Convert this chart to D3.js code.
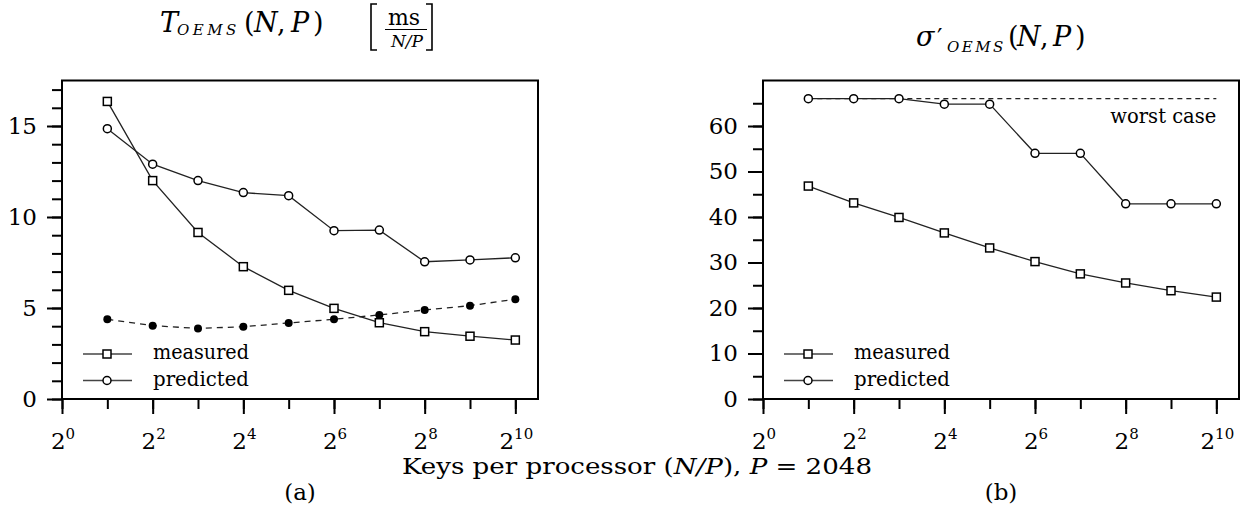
<!DOCTYPE html>
<html>
<head>
<meta charset="utf-8">
<script src="https://cdn.jsdelivr.net/npm/d3@7"></script>
<style>
  body { margin: 0; background: #fff; }
  svg text { font-family: "DejaVu Serif", serif; fill: #000; }
  .it { font-style: italic; }
</style>
</head>
<body>
<script>
// keys per processor (N/P), x positions of the points
var keysPerProc = [2, 4, 8, 16, 32, 64, 128, 256, 512, 1024];
var xTickValues = [1, 2, 4, 8, 16, 32, 64, 128, 256, 512, 1024];
var xMajorTicks = [1, 4, 16, 64, 256, 1024];
var xTickExponents = [0, 2, 4, 6, 8, 10];

// (a) T_OEMS(N,P) in ms per N/P
var timeMeasured = [16.35, 12.0, 9.15, 7.27, 5.97, 4.98, 4.19, 3.70, 3.45, 3.24];
var timePredicted = [14.85, 12.9, 12.0, 11.34, 11.17, 9.25, 9.28, 7.54, 7.64, 7.76];
var timeDashed = [4.38, 4.03, 3.88, 3.97, 4.18, 4.38, 4.62, 4.89, 5.13, 5.48];
var timeMajorTicks = [0, 5, 10, 15];
var timeMinorTicks = [0, 1, 2, 3, 4, 5, 6, 7, 8, 9, 10, 11, 12, 13, 14, 15, 16, 17];

// (b) sigma'_OEMS(N,P)
var sigmaMeasured = [46.8, 43.1, 39.9, 36.5, 33.2, 30.2, 27.5, 25.5, 23.8, 22.4];
var sigmaPredicted = [66, 66, 66, 64.8, 64.8, 54.0, 54.0, 42.9, 42.9, 42.9];
var sigmaWorst = 66;
var sigmaMajorTicks = [0, 10, 20, 30, 40, 50, 60];
var sigmaMinorTicks = [0, 5, 10, 15, 20, 25, 30, 35, 40, 45, 50, 55, 60, 65];

var legendLabels = ["measured", "predicted"];

var W = 1247, H = 508;
var top0 = 80.5, bottom0 = 399;

var svg = d3.select("body").append("svg")
  .attr("width", W)
  .attr("height", H)
  .attr("font-family", "DejaVu Serif");

function drawPanel(p) {
  var x = d3.scaleLog().base(2)
    .domain([1, Math.pow(2, 10.5)])
    .range([p.left, p.right]);
  var y = d3.scaleLinear()
    .domain([0, p.yMax])
    .range([bottom0, top0]);

  var g = svg.append("g");

  // y ticks (minor then major with labels)
  g.append("g")
    .attr("transform", "translate(" + p.left + ",0)")
    .call(d3.axisLeft(y).tickValues(p.minorTicks).tickSize(10).tickFormat(""))
    .call(function(a) { a.select(".domain").remove(); });
  g.append("g")
    .attr("transform", "translate(" + p.left + ",0)")
    .call(d3.axisLeft(y).tickValues(p.majorTicks).tickSize(15).tickPadding(10).tickFormat(d3.format("d")))
    .call(function(a) { a.select(".domain").remove(); a.attr("font-family", null); })
    .selectAll("text").style("font-size", "23px");

  // x ticks
  g.append("g")
    .attr("transform", "translate(0," + bottom0 + ")")
    .call(d3.axisBottom(x).tickValues(xTickValues).tickSize(10).tickFormat(""))
    .call(function(a) { a.select(".domain").remove(); });
  g.append("g")
    .attr("transform", "translate(0," + bottom0 + ")")
    .call(d3.axisBottom(x).tickValues(xMajorTicks).tickSize(15).tickFormat(""))
    .call(function(a) { a.select(".domain").remove(); });

  g.selectAll(".tick line").attr("stroke-width", 2);

  // 2^k labels
  g.selectAll(null)
    .data(xTickExponents)
    .enter().append("text")
    .attr("x", function(d) { return x(Math.pow(2, d)) + 1; })
    .attr("y", 449)
    .attr("text-anchor", "middle")
    .style("font-size", "23px")
    .each(function(d) {
      var t = d3.select(this);
      t.append("tspan").text("2");
      t.append("tspan").attr("dy", -10).style("font-size", "15px").text(d);
    });

  // frame
  g.append("rect")
    .attr("x", p.left).attr("y", top0)
    .attr("width", p.right - p.left).attr("height", bottom0 - top0)
    .attr("fill", "none").attr("stroke", "#000").attr("stroke-width", 2);

  var line = d3.line()
    .x(function(d, i) { return x(keysPerProc[i]); })
    .y(function(d) { return y(d); });

  if (p.worst != null) {
    g.append("path")
      .datum([p.worst, p.worst])
      .attr("d", d3.line()
        .x(function(d, i) { return x(i === 0 ? keysPerProc[0] : keysPerProc[keysPerProc.length - 1]); })
        .y(function(d) { return y(d); }))
      .attr("fill", "none").attr("stroke", "#222").attr("stroke-width", 1.3)
      .attr("stroke-dasharray", "5,4");
    g.append("text")
      .attr("x", x(1024)).attr("y", 123)
      .attr("text-anchor", "end")
      .attr("textLength", 106).attr("lengthAdjust", "spacingAndGlyphs")
      .style("font-size", "21px")
      .text("worst case");
  }

  if (p.dashed) {
    g.append("path").datum(p.dashed)
      .attr("d", line)
      .attr("fill", "none").attr("stroke", "#222").attr("stroke-width", 1.3)
      .attr("stroke-dasharray", "6,5");
    g.selectAll(null).data(p.dashed).enter().append("circle")
      .attr("cx", function(d, i) { return x(keysPerProc[i]); })
      .attr("cy", function(d) { return y(d); })
      .attr("r", 4).attr("fill", "#000");
  }

  [p.measured, p.predicted].forEach(function(s) {
    g.append("path").datum(s)
      .attr("d", line)
      .attr("fill", "none").attr("stroke", "#222").attr("stroke-width", 1.3);
  });

  g.selectAll(null).data(p.measured).enter().append("rect")
    .attr("x", function(d, i) { return x(keysPerProc[i]) - 4; })
    .attr("y", function(d) { return y(d) - 4; })
    .attr("width", 8).attr("height", 8)
    .attr("fill", "#fff").attr("stroke", "#000").attr("stroke-width", 1.5);

  g.selectAll(null).data(p.predicted).enter().append("circle")
    .attr("cx", function(d, i) { return x(keysPerProc[i]); })
    .attr("cy", function(d) { return y(d); })
    .attr("r", 4)
    .attr("fill", "#fff").attr("stroke", "#000").attr("stroke-width", 1.5);

  // legend
  legendLabels.forEach(function(lab, i) {
    var ly = 354 + i * 26.5;
    var mx = p.left + 45;
    g.append("line")
      .attr("x1", p.left + 21).attr("x2", p.left + 70)
      .attr("y1", ly).attr("y2", ly)
      .attr("stroke", "#444").attr("stroke-width", 1.3);
    if (i === 0) {
      g.append("rect").attr("x", mx - 4).attr("y", ly - 4).attr("width", 8).attr("height", 8)
        .attr("fill", "#fff").attr("stroke", "#000").attr("stroke-width", 1.5);
    } else {
      g.append("circle").attr("cx", mx).attr("cy", ly).attr("r", 4)
        .attr("fill", "#fff").attr("stroke", "#000").attr("stroke-width", 1.5);
    }
    g.append("text")
      .attr("x", p.left + 91).attr("y", ly + 5)
      .attr("textLength", 96).attr("lengthAdjust", "spacingAndGlyphs")
      .style("font-size", "21px")
      .text(lab);
  });

  // panel caption (a)/(b)
  g.append("text")
    .attr("x", (p.left + p.right) / 2).attr("y", 500)
    .attr("text-anchor", "middle")
    .style("font-size", "23px")
    .text(p.caption);
}

drawPanel({
  left: 62, right: 538, yMax: 17.5,
  majorTicks: timeMajorTicks, minorTicks: timeMinorTicks,
  measured: timeMeasured, predicted: timePredicted, dashed: timeDashed,
  caption: "(a)"
});

drawPanel({
  left: 763, right: 1239, yMax: 70,
  majorTicks: sigmaMajorTicks, minorTicks: sigmaMinorTicks,
  measured: sigmaMeasured, predicted: sigmaPredicted, worst: sigmaWorst,
  caption: "(b)"
});

// titles
function piece(t, txt, xp, size, italic, dy) {
  t.append("tspan")
    .attr("x", xp)
    .attr("dy", dy || 0)
    .attr("class", italic ? "it" : null)
    .style("font-size", size + "px")
    .text(txt);
}

var t1 = svg.append("text").attr("y", 32);
piece(t1, "T", 160, 27, true);
t1.append("tspan").attr("x", 177).attr("dy", 3).attr("class", "it")
  .style("font-size", "15px").style("letter-spacing", "3.5px").text("OEMS");
piece(t1, "(", 244, 27, false, -3);
piece(t1, "N", 254, 27, true);
piece(t1, ",", 277, 27, false);
piece(t1, "P", 291, 27, true);
piece(t1, ")", 313, 27, false);

// bracket with ms / (N/P)
svg.append("path")
  .attr("d", "M377,4 H371 V50 H377 M426,4 H432 V50 H426")
  .attr("fill", "none").attr("stroke", "#000").attr("stroke-width", 1.6);
svg.append("text").attr("x", 404).attr("y", 25).attr("text-anchor", "middle")
  .style("font-size", "22px").text("ms");
svg.append("line").attr("x1", 385).attr("x2", 427).attr("y1", 29.5).attr("y2", 29.5)
  .attr("stroke", "#000").attr("stroke-width", 1.2);
svg.append("text").attr("x", 407).attr("y", 47).attr("text-anchor", "middle")
  .attr("class", "it").style("font-size", "17px").text("N/P");

var t2 = svg.append("text").attr("y", 46);
piece(t2, "σ", 916, 27, true);
piece(t2, "′", 937, 24, false);
t2.append("tspan").attr("x", 947).attr("dy", 6).attr("class", "it")
  .style("font-size", "15px").style("letter-spacing", "2.5px").text("OEMS");
piece(t2, "(", 1008, 27, false, -6);
piece(t2, "N", 1017, 27, true);
piece(t2, ",", 1040, 27, false);
piece(t2, "P", 1053, 27, true);
piece(t2, ")", 1075, 27, false);

// shared x-axis title
var xt = svg.append("text").attr("x", 402).attr("y", 474)
  .attr("textLength", 470).attr("lengthAdjust", "spacingAndGlyphs")
  .style("font-size", "23px");
xt.append("tspan").text("Keys per processor (");
xt.append("tspan").attr("class", "it").text("N/P");
xt.append("tspan").text("), ");
xt.append("tspan").attr("class", "it").text("P");
xt.append("tspan").text(" = 2048");
</script>
</body>
</html>
